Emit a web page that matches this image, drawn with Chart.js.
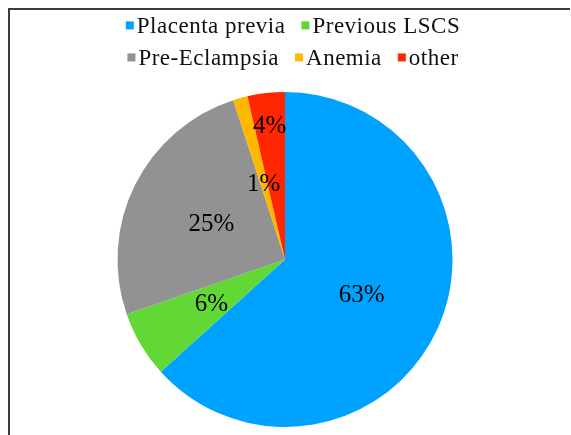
<!DOCTYPE html>
<html>
<head>
<meta charset="utf-8">
<script src="https://cdn.jsdelivr.net/npm/chart.js@4/dist/chart.umd.min.js"></script>
<style>
  html, body { margin: 0; padding: 0; background: #fff; overflow: hidden; }
  #frame {
    position: absolute; left: 8px; top: 8px;
    width: 560px; height: 440px;
    border-top: 2px solid #3c3c3c; border-left: 2px solid #3c3c3c;
  }
  #wrap { position: absolute; left: 0; top: 0; width: 550px; height: 425px; }
</style>
</head>
<body>
<div id="frame">
  <div id="wrap"><canvas id="pie"></canvas></div>
</div>
<script>
const categories = ["Placenta previa", "Previous LSCS", "Pre-Eclampsia", "Anemia", "other"];
const shares = [63.3, 6.4, 25.3, 1.4, 3.6];
const shareLabels = ["63%", "6%", "25%", "1%", "4%"];
const sliceColors = ["#00A2FF", "#61D836", "#929292", "#FFB700", "#FF2600"];

const serif = "'Liberation Serif', 'Times New Roman', serif";

// slice labels, placed along the middle angle of each arc
const sliceLabelPlugin = {
  id: "sliceLabels",
  afterDatasetsDraw(chart, args, opts) {
    const ctx = chart.ctx;
    const arcs = chart.getDatasetMeta(0).data;
    ctx.save();
    ctx.font = opts.size + "px " + serif;
    ctx.fillStyle = "#000";
    ctx.textAlign = "center";
    ctx.textBaseline = "alphabetic";
    arcs.forEach((arc, i) => {
      const p = arc.getProps(["x", "y", "startAngle", "endAngle", "outerRadius"], true);
      const mid = (p.startAngle + p.endAngle) / 2;
      const r = p.outerRadius * opts.radius[i];
      const x = p.x + Math.cos(mid) * r;
      const y = p.y + Math.sin(mid) * r;
      ctx.fillText(shareLabels[i], x, y + opts.size * 0.34);
    });
    ctx.restore();
  }
};

// legend drawn by hand: small square, tight gap, rows wrapped & centred
const squareLegendPlugin = {
  id: "squareLegend",
  afterDraw(chart, args, opts) {
    const ctx = chart.ctx;
    ctx.save();
    ctx.font = opts.size + "px " + serif;
    ctx.letterSpacing = opts.spacing + "px";
    ctx.textBaseline = "alphabetic";
    ctx.textAlign = "left";
    const items = categories.map((c, i) => {
      const w = opts.box + opts.boxGap + ctx.measureText(c).width;
      return { text: c, color: sliceColors[i], w: w };
    });
    const rows = [[]];
    let rowW = 0;
    items.forEach((it) => {
      const add = rows[rows.length - 1].length ? opts.itemGap + it.w : it.w;
      if (rowW + add > opts.maxWidth && rows[rows.length - 1].length) {
        rows.push([it]);
        rowW = it.w;
      } else {
        rows[rows.length - 1].push(it);
        rowW += add;
      }
    });
    rows.forEach((row, r) => {
      const total = row.reduce((s, it) => s + it.w, 0) + opts.itemGap * (row.length - 1);
      let x = chart.width / 2 + opts.shift - total / 2;
      const base = opts.top + r * opts.lineHeight;
      row.forEach((it) => {
        ctx.fillStyle = it.color;
        ctx.fillRect(x, base - opts.size * 0.33 - opts.box / 2, opts.box, opts.box);
        ctx.fillStyle = "#111";
        ctx.fillText(it.text, x + opts.box + opts.boxGap, base);
        x += it.w + opts.itemGap;
      });
    });
    ctx.restore();
  }
};

new Chart(document.getElementById("pie"), {
  type: "pie",
  data: {
    labels: categories,
    datasets: [{
      data: shares,
      backgroundColor: sliceColors,
      borderWidth: 0
    }]
  },
  options: {
    responsive: true,
    maintainAspectRatio: false,
    animation: false,
    layout: { padding: { top: 82, bottom: 8 } },
    plugins: {
      legend: { display: false },
      tooltip: { enabled: false },
      sliceLabels: { size: 25, radius: [0.5, 0.51, 0.49, 0.48, 0.81] },
      squareLegend: {
        size: 23, spacing: 0.5, box: 8, boxGap: 3, itemGap: 16,
        maxWidth: 360, top: 23, lineHeight: 32, shift: 8
      }
    }
  },
  plugins: [sliceLabelPlugin, squareLegendPlugin]
});
</script>
</body>
</html>
